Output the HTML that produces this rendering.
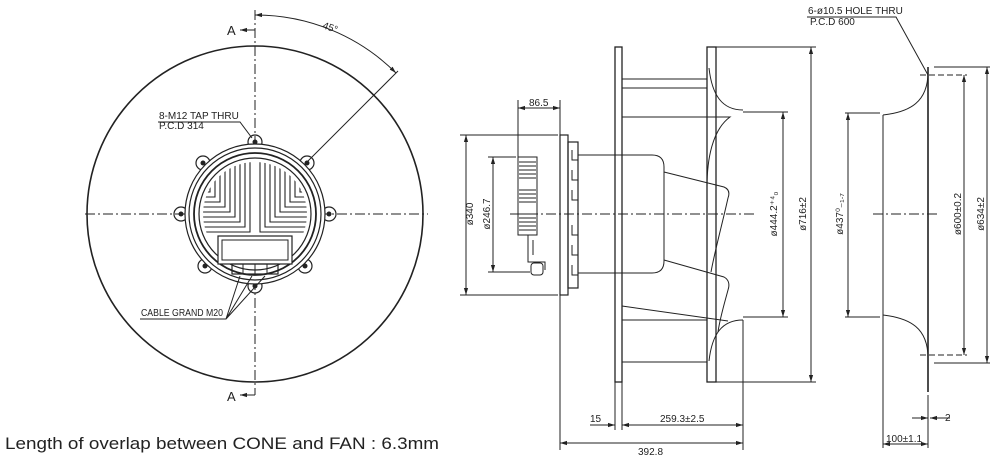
<!DOCTYPE html>
<html><head><meta charset="utf-8"><style>
html,body{margin:0;padding:0;background:#fff}
svg{display:block}
text{font-family:"Liberation Sans",sans-serif;fill:#222}
</style></head><body>
<svg width="1000" height="459" viewBox="0 0 1000 459" xmlns="http://www.w3.org/2000/svg">
<defs>
<marker id="ar" viewBox="0 0 10 10" refX="10" refY="5" markerWidth="7" markerHeight="7" orient="auto-start-reverse"><path d="M0,2 L10,5 L0,8 z" fill="#222"/></marker>
<clipPath id="cc"><circle cx="255" cy="214" r="52"/></clipPath>
</defs>
<g stroke="#222" fill="none" stroke-width="1">
<!-- LEFT VIEW -->
<circle cx="255" cy="214" r="168" stroke-width="1.6"/>
<line x1="255" y1="10" x2="255" y2="395" stroke-dasharray="10,3,2,3"/>
<line x1="85" y1="214" x2="428" y2="214" stroke-dasharray="10,3,2,3"/>
<path d="M255,15 A199,199 0 0 1 396,73" marker-start="url(#ar)" marker-end="url(#ar)"/>
<line x1="255" y1="214" x2="398" y2="71"/>
<path d="M255,30 H240" marker-end="url(#ar)"/>
<path d="M255,395 H240" marker-end="url(#ar)"/>
<g stroke-width="1.2">
<circle cx="255" cy="142" r="7"/><circle cx="255" cy="286" r="7"/>
<circle cx="181" cy="214" r="7"/><circle cx="329" cy="214" r="7"/>
<circle cx="203" cy="163" r="7"/><circle cx="307" cy="163" r="7"/>
<circle cx="205" cy="266" r="7"/><circle cx="305" cy="266" r="7"/>
</g>
<circle cx="255" cy="214" r="70" fill="#fff" stroke-width="1.2"/>
<circle cx="255" cy="214" r="66" stroke-width="1.2"/>
<circle cx="255" cy="214" r="61" stroke-width="1.8"/>
<circle cx="255" cy="214" r="56" stroke-width="1.2"/>
<g fill="#222" stroke="none">
<circle cx="255" cy="142" r="2.5"/><circle cx="255" cy="286" r="2.5"/>
<circle cx="181" cy="214" r="2.5"/><circle cx="329" cy="214" r="2.5"/>
<circle cx="203" cy="163" r="2.5"/><circle cx="307" cy="163" r="2.5"/>
<circle cx="205" cy="266" r="2.5"/><circle cx="305" cy="266" r="2.5"/>
</g>
<g clip-path="url(#cc)" stroke-width="1.1">
<path d="M250,150V232H190M245,150V227H190M240,150V222H190M235,150V217H190M230,150V212H190M225,150V207H190M220,150V202H190M215,150V197H190M210,150V192H190"/>
<path d="M260,150V232H320M265,150V227H320M270,150V222H320M275,150V217H320M280,150V212H320M285,150V207H320M290,150V202H320M295,150V197H320M300,150V192H320"/>
</g>
<rect x="218" y="236" width="74" height="28" fill="#fff" stroke-width="1.2"/>
<rect x="222" y="240" width="66" height="20"/>
<rect x="232" y="264" width="46" height="10" stroke-width="1.2"/>
<line x1="243" y1="264" x2="243" y2="274"/><line x1="255" y1="264" x2="255" y2="274"/><line x1="267" y1="264" x2="267" y2="274"/>
<path d="M158,122 H240 L252,138"/>
<path d="M140,319 H226 L240,276 M226,319 L252,276 M226,319 L265,276"/>
<!-- MIDDLE VIEW -->
<rect x="615" y="47" width="7" height="335" stroke-width="1.3"/>
<rect x="707" y="47" width="9" height="335" stroke-width="1.3"/>
<line x1="622" y1="79" x2="707" y2="79"/><line x1="622" y1="88" x2="707" y2="88"/>
<line x1="622" y1="320" x2="707" y2="320"/><line x1="622" y1="362" x2="707" y2="362"/>
<path d="M709,68 C712,95 722,110 743,110 M709,361 C712,334 722,320 743,320"/>
<line x1="707" y1="88" x2="707" y2="117"/><line x1="707" y1="320" x2="707" y2="340"/>
<path d="M622,117 H730 C712,130 707,160 707,187"/>
<path d="M664,172 L724,187 Q731,190 728,198 C722,225 715,250 711,272"/>
<path d="M664,260 L724,277 Q731,281 728,290 C724,305 720,318 718,332"/>
<path d="M622,306 L728,321"/>
<path d="M622,155 H652 Q664,155 664,167 V261 Q664,273 652,273 H622"/>
<line x1="578" y1="155" x2="622" y2="155"/><line x1="578" y1="273" x2="622" y2="273"/>
<rect x="560" y="135" width="8" height="160" stroke-width="1.2"/>
<rect x="568" y="142" width="10" height="146" stroke-width="1.2"/>
<path d="M572,150v10h6M572,170v10h6M572,190v10h6M572,225v10h6M572,245v10h6M572,265v10h6"/>
<rect x="518" y="157" width="19" height="78"/>
<path d="M519,162h17M519,166h17M519,170h17M519,174h17M519,178h17M519,190h17M519,194h17M519,198h17M519,202h17M519,214h17M519,218h17M519,222h17M519,226h17M519,230h17"/>
<path d="M528,235 V262 H545 V270 M533,240 V255"/>
<rect x="531" y="263" width="12" height="12" rx="3"/>
<line x1="510" y1="214" x2="755" y2="214" stroke-dasharray="10,3,2,3"/>
<line x1="518" y1="157" x2="518" y2="100"/><line x1="560" y1="135" x2="560" y2="100"/>
<line x1="518" y1="108" x2="560" y2="108" marker-start="url(#ar)" marker-end="url(#ar)"/>
<line x1="460" y1="135" x2="558" y2="135"/><line x1="460" y1="295" x2="558" y2="295"/>
<line x1="466" y1="135" x2="466" y2="295" marker-start="url(#ar)" marker-end="url(#ar)"/>
<line x1="488" y1="157" x2="516" y2="157"/><line x1="488" y1="272" x2="530" y2="272"/>
<line x1="493" y1="157" x2="493" y2="272" marker-start="url(#ar)" marker-end="url(#ar)"/>
<line x1="560" y1="295" x2="560" y2="450"/><line x1="615" y1="382" x2="615" y2="430"/><line x1="622" y1="382" x2="622" y2="430"/>
<line x1="743" y1="320" x2="743" y2="450"/>
<line x1="590" y1="425" x2="615" y2="425" marker-end="url(#ar)"/>
<line x1="622" y1="425" x2="743" y2="425" marker-start="url(#ar)" marker-end="url(#ar)"/>
<line x1="560" y1="443" x2="743" y2="443" marker-start="url(#ar)" marker-end="url(#ar)"/>
<line x1="716" y1="47" x2="816" y2="47"/><line x1="716" y1="382" x2="816" y2="382"/>
<line x1="811" y1="47" x2="811" y2="382" marker-start="url(#ar)" marker-end="url(#ar)"/>
<line x1="743" y1="112" x2="788" y2="112"/><line x1="743" y1="317" x2="788" y2="317"/>
<line x1="783" y1="112" x2="783" y2="317" marker-start="url(#ar)" marker-end="url(#ar)"/>
<!-- RIGHT VIEW -->
<line x1="928" y1="67" x2="928" y2="392" stroke-width="1.6"/>
<line x1="928" y1="395" x2="928" y2="448"/>
<line x1="883" y1="115" x2="883" y2="448"/>
<path d="M883,115 C910,112 928,102 928,72 M883,315 C910,318 928,328 928,358"/>
<line x1="845" y1="113" x2="880" y2="113"/><line x1="845" y1="317" x2="880" y2="317"/>
<line x1="848" y1="113" x2="848" y2="317" marker-start="url(#ar)" marker-end="url(#ar)"/>
<line x1="873" y1="214" x2="940" y2="214" stroke-dasharray="10,3,2,3"/>
<line x1="920" y1="75" x2="967" y2="75" stroke-dasharray="6,3"/><line x1="920" y1="355" x2="967" y2="355" stroke-dasharray="6,3"/>
<line x1="934" y1="67" x2="990" y2="67"/><line x1="934" y1="363" x2="990" y2="363"/>
<line x1="964" y1="75" x2="964" y2="355" marker-start="url(#ar)" marker-end="url(#ar)"/>
<line x1="987" y1="67" x2="987" y2="363" marker-start="url(#ar)" marker-end="url(#ar)"/>
<path d="M807,17 H896 L928,75"/>
<line x1="912" y1="418" x2="928" y2="418" marker-end="url(#ar)"/>
<line x1="950" y1="418" x2="930" y2="418" marker-end="url(#ar)"/>
<line x1="883" y1="444" x2="928" y2="444" marker-start="url(#ar)" marker-end="url(#ar)"/>
</g>
<g font-size="10">
<text x="227" y="35" font-size="13">A</text>
<text x="227" y="401" font-size="13">A</text>
<text x="322" y="28" transform="rotate(20 322 28)">45°</text>
<text x="159" y="119">8-M12 TAP THRU</text>
<text x="159" y="129">P.C.D 314</text>
<text x="141" y="316" textLength="82" lengthAdjust="spacingAndGlyphs">CABLE GRAND M20</text>
<text x="529" y="106">86.5</text>
<text x="463" y="224" transform="rotate(-90 463 214)" text-anchor="middle">ø340</text>
<text x="490" y="214" transform="rotate(-90 490 214)" text-anchor="middle">ø246.7</text>
<text x="777" y="214" transform="rotate(-90 777 214)" text-anchor="middle">ø444.2⁺⁴₀</text>
<text x="806" y="214" transform="rotate(-90 806 214)" text-anchor="middle">ø716±2</text>
<text x="843" y="214" transform="rotate(-90 843 214)" text-anchor="middle">ø437⁰₋₁.₇</text>
<text x="961" y="214" transform="rotate(-90 961 214)" text-anchor="middle">ø600±0.2</text>
<text x="984" y="214" transform="rotate(-90 984 214)" text-anchor="middle">ø634±2</text>
<text x="590" y="422">15</text>
<text x="660" y="422">259.3±2.5</text>
<text x="638" y="455">392.8</text>
<text x="808" y="14">6-ø10.5 HOLE THRU</text>
<text x="810" y="25">P.C.D 600</text>
<text x="945" y="421">2</text>
<text x="886" y="442">100±1.1</text>
</g>
<text x="5" y="449" font-size="17" textLength="434" lengthAdjust="spacingAndGlyphs">Length of overlap between CONE and FAN : 6.3mm</text>
</svg>
</body></html>
